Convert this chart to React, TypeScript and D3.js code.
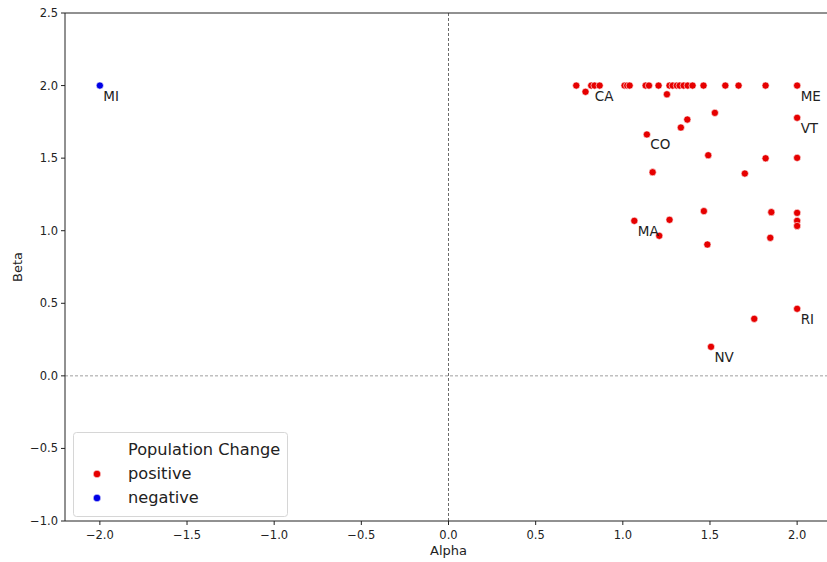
import React from "react";
import * as d3 from "d3";

const alphaPos = [0.733, 0.819, 0.838, 0.867, 1.01, 1.025, 1.039, 1.131, 1.15, 1.205, 1.268, 1.286, 1.31, 1.326, 1.349, 1.372, 1.4, 1.463, 1.588, 1.664, 1.819, 2.0,
  0.786, 1.253, 1.528, 1.37, 1.333, 1.138, 2.0, 1.49, 1.819, 2.0, 1.171, 1.7,
  1.066, 1.268, 1.209, 1.465, 1.485, 1.852, 1.846, 2.0, 2.0, 2.0, 2.0, 1.754, 1.506];
const betaPos = [2.0, 2.0, 2.0, 2.0, 2.0, 2.0, 2.0, 2.0, 2.0, 2.0, 2.0, 2.0, 2.0, 2.0, 2.0, 2.0, 2.0, 2.0, 2.0, 2.0, 2.0, 2.0,
  1.957, 1.94, 1.812, 1.766, 1.711, 1.663, 1.778, 1.52, 1.499, 1.502, 1.403, 1.394,
  1.068, 1.075, 0.965, 1.135, 0.905, 1.128, 0.951, 1.123, 1.068, 1.033, 0.462, 0.393, 0.2];
const alphaNeg = [-2.0];
const betaNeg = [2.0];

const labelNames = ["MI", "CA", "ME", "VT", "CO", "MA", "RI", "NV"];
const labelAlpha = [-2.0, 0.819, 2.0, 2.0, 1.138, 1.066, 2.0, 1.506];
const labelBeta = [2.0, 2.0, 2.0, 1.778, 1.663, 1.068, 0.462, 0.2];

const xTicks = [-2.0, -1.5, -1.0, -0.5, 0.0, 0.5, 1.0, 1.5, 2.0];
const yTicks = [-1.0, -0.5, 0.0, 0.5, 1.0, 1.5, 2.0, 2.5];

const RED = "#e60000";
const BLUE = "#0000e6";
const FONT = "DejaVu Sans, sans-serif";

export default function App() {
  const W = 827, H = 562;
  const left = 65, right = 832, top = 13, bottom = 521;
  const x = d3.scaleLinear().domain([-2.2, 2.2]).range([left, right]);
  const y = d3.scaleLinear().domain([-1.0, 2.5]).range([bottom, top]);
  const fmt = (v: number) => d3.format(".1f")(v).replace("-", "\u2212");

  return (
    <svg width={W} height={H} style={{ position: "absolute", left: 0, top: 0, background: "#fff" }} fontFamily={FONT}>
      <rect x={0} y={0} width={W} height={H} fill="#fff" />
      {/* reference lines */}
      <line x1={x(0)} x2={x(0)} y1={top} y2={bottom} stroke="#444" strokeWidth={0.8} strokeDasharray="3,2" />
      <line x1={left} x2={right} y1={y(0)} y2={y(0)} stroke="#888" strokeWidth={0.8} strokeDasharray="3,2" />
      {/* points */}
      {alphaPos.map((a, i) => (
        <circle key={"p" + i} cx={x(a)} cy={y(betaPos[i])} r={3.6} fill={RED} stroke="#fff" strokeWidth={0.6} />
      ))}
      {alphaNeg.map((a, i) => (
        <circle key={"n" + i} cx={x(a)} cy={y(betaNeg[i])} r={3.6} fill={BLUE} stroke="#fff" strokeWidth={0.6} />
      ))}
      {/* labels */}
      {labelNames.map((n, i) => (
        <text key={n} x={x(labelAlpha[i]) + 3.5} y={y(labelBeta[i]) + 15} fontSize={13.5} fill="#222">{n}</text>
      ))}
      {/* spines */}
      <line x1={left} x2={left} y1={top} y2={bottom} stroke="#222" strokeWidth={1} />
      <line x1={left} x2={right} y1={bottom} y2={bottom} stroke="#222" strokeWidth={1} />
      <line x1={left} x2={right} y1={top} y2={top} stroke="#222" strokeWidth={1} />
      <line x1={right} x2={right} y1={top} y2={bottom} stroke="#222" strokeWidth={1} />
      {/* x ticks */}
      {xTicks.map((t) => (
        <g key={"x" + t}>
          <line x1={x(t)} x2={x(t)} y1={bottom} y2={bottom + 4} stroke="#222" />
          <text x={x(t)} y={bottom + 18} fontSize={11.5} textAnchor="middle" fill="#222">{fmt(t)}</text>
        </g>
      ))}
      {yTicks.map((t) => (
        <g key={"y" + t}>
          <line x1={left - 4} x2={left} y1={y(t)} y2={y(t)} stroke="#222" />
          <text x={left - 7} y={y(t) + 4} fontSize={11.5} textAnchor="end" fill="#222">{fmt(t)}</text>
        </g>
      ))}
      <text x={x(0)} y={555} fontSize={13} textAnchor="middle" fill="#222">Alpha</text>
      <text transform={`translate(22,${(top + bottom) / 2}) rotate(-90)`} fontSize={13} textAnchor="middle" fill="#222">Beta</text>
      {/* legend */}
      <rect x={73.5} y={432.5} width={214} height={84} rx={3} fill="#fff" fillOpacity={0.8} stroke="#d6d6d6" strokeWidth={1} />
      <text x={128} y={455} fontSize={16.2} fill="#222">Population Change</text>
      <circle cx={97} cy={474} r={3.8} fill={RED} stroke="#fff" strokeWidth={0.6} />
      <text x={128} y={479} fontSize={16.2} fill="#222">positive</text>
      <circle cx={97} cy={498} r={3.8} fill={BLUE} stroke="#fff" strokeWidth={0.6} />
      <text x={128} y={503} fontSize={16.2} fill="#222">negative</text>
    </svg>
  );
}
